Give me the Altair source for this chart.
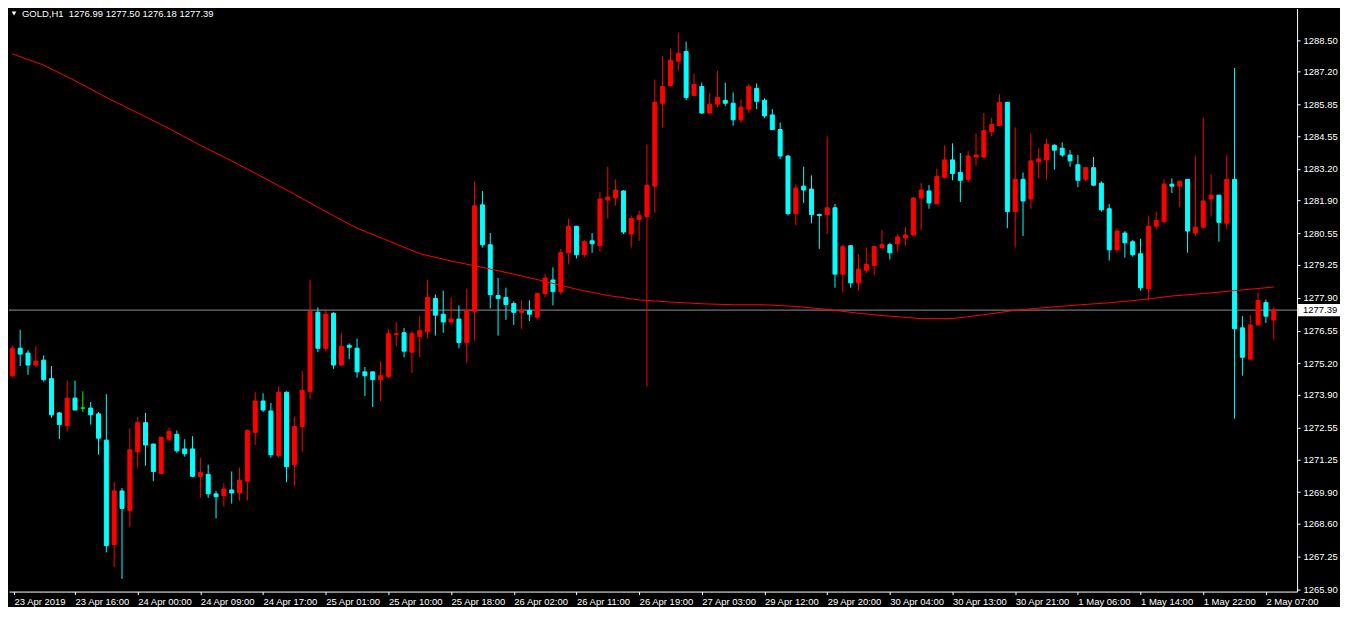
import altair as alt
import pandas as pd

# ---- data ----
bar_index = list(range(-1, 161))

open_ = [1274.69, 1275.82, 1275.62, 1275.13, 1275.33, 1274.57, 1273.16, 1272.64, 1273.77, 1273.36,
         1273.36, 1273.12, 1272.04, 1267.74, 1269.95, 1269.15, 1271.56, 1272.76, 1271.88, 1270.67,
         1272.08, 1272.28, 1271.68, 1271.68, 1270.55, 1270.63, 1269.83, 1269.75, 1269.99, 1269.87,
         1270.35, 1272.36, 1273.65, 1273.24, 1271.40, 1274.01, 1271.03, 1272.60, 1274.05, 1277.30,
         1275.82, 1277.26, 1275.13, 1275.94, 1275.82, 1274.85, 1274.85, 1274.53, 1274.65, 1276.38,
         1276.46, 1275.66, 1276.30, 1276.50, 1277.87, 1277.22, 1276.90, 1277.02, 1276.06, 1277.34,
         1281.72, 1280.08, 1277.99, 1277.91, 1277.66, 1277.30, 1277.38, 1277.10, 1278.07, 1278.63,
         1278.15, 1279.75, 1280.84, 1279.67, 1280.24, 1280.04, 1281.92, 1282.00, 1282.29, 1280.52,
         1281.12, 1281.24, 1282.49, 1285.90, 1286.63, 1287.63, 1288.03, 1286.22, 1286.59, 1285.50,
         1285.86, 1286.02, 1285.90, 1285.22, 1285.66, 1286.51, 1286.02, 1285.42, 1284.82, 1283.73,
         1281.36, 1282.49, 1282.37, 1281.32, 1281.32, 1281.60, 1278.87, 1280.04, 1278.51, 1279.03,
         1279.23, 1279.96, 1280.08, 1280.12, 1280.36, 1280.48, 1282.00, 1282.29, 1281.76, 1282.85,
         1283.57, 1283.05, 1282.77, 1283.69, 1283.69, 1284.74, 1284.98, 1285.94, 1281.44, 1282.77,
         1281.96, 1283.49, 1283.57, 1284.17, 1284.05, 1283.77, 1283.37, 1282.77, 1283.25, 1282.61,
         1281.56, 1279.87, 1280.56, 1280.20, 1279.71, 1278.27, 1280.84, 1281.04, 1282.57, 1282.49,
         1282.77, 1280.56, 1280.80, 1281.96, 1282.12, 1280.96, 1282.77, 1276.66, 1275.37, 1276.78,
         1277.70, 1276.99]

high = [1275.94, 1276.58, 1275.74, 1275.90, 1275.53, 1275.09, 1273.20, 1274.49, 1274.49, 1274.05,
        1273.61, 1273.20, 1273.93, 1270.31, 1270.07, 1272.52, 1273.00, 1273.16, 1271.88, 1272.16,
        1272.56, 1272.44, 1272.08, 1272.20, 1271.32, 1271.03, 1269.95, 1270.27, 1270.75, 1270.91,
        1272.48, 1274.01, 1273.97, 1273.57, 1274.25, 1274.05, 1273.00, 1274.89, 1278.63, 1277.50,
        1277.42, 1277.30, 1276.46, 1276.02, 1276.22, 1275.05, 1274.85, 1275.29, 1276.62, 1276.90,
        1276.66, 1276.54, 1277.14, 1278.63, 1278.03, 1278.19, 1277.91, 1277.58, 1278.27, 1282.69,
        1282.29, 1280.56, 1278.71, 1278.31, 1277.74, 1277.79, 1277.79, 1278.07, 1278.87, 1279.15,
        1279.91, 1281.16, 1280.84, 1280.28, 1280.56, 1282.25, 1283.29, 1282.77, 1282.33, 1281.28,
        1281.48, 1284.21, 1286.87, 1287.83, 1288.15, 1288.80, 1288.43, 1287.11, 1286.75, 1286.31,
        1287.23, 1286.75, 1286.35, 1286.06, 1286.71, 1286.71, 1286.10, 1285.66, 1285.10, 1283.77,
        1282.57, 1283.29, 1282.93, 1281.36, 1284.54, 1281.76, 1280.08, 1280.04, 1279.67, 1279.96,
        1280.04, 1280.68, 1280.16, 1280.52, 1280.80, 1282.04, 1282.61, 1282.53, 1283.21, 1284.17,
        1284.25, 1283.85, 1283.93, 1284.66, 1285.50, 1285.30, 1286.27, 1285.94, 1284.90, 1283.05,
        1284.66, 1284.05, 1284.42, 1284.21, 1284.29, 1283.97, 1283.77, 1283.25, 1283.69, 1282.69,
        1281.76, 1280.76, 1280.64, 1280.28, 1280.32, 1281.24, 1281.44, 1282.77, 1282.81, 1282.69,
        1282.77, 1283.73, 1285.30, 1282.97, 1282.12, 1283.77, 1287.35, 1277.14, 1277.18, 1278.11,
        1277.83, 1277.50]

low = [1274.61, 1275.09, 1274.73, 1275.05, 1274.45, 1272.96, 1272.08, 1272.40, 1273.28, 1273.20,
       1272.68, 1271.44, 1267.42, 1266.81, 1266.33, 1268.46, 1270.91, 1270.99, 1270.35, 1270.67,
       1272.00, 1271.52, 1271.36, 1270.55, 1269.67, 1269.67, 1268.82, 1269.31, 1269.43, 1269.55,
       1269.55, 1271.84, 1273.20, 1271.32, 1271.32, 1270.31, 1270.15, 1271.56, 1273.73, 1275.66,
       1275.70, 1274.97, 1275.09, 1275.37, 1274.61, 1273.85, 1273.40, 1273.65, 1274.61, 1275.90,
       1275.45, 1274.81, 1275.45, 1276.22, 1276.34, 1276.46, 1276.78, 1275.82, 1275.21, 1276.14,
       1279.96, 1277.46, 1276.34, 1276.98, 1276.78, 1276.62, 1276.94, 1277.02, 1277.91, 1277.58,
       1278.03, 1279.27, 1279.51, 1279.55, 1279.75, 1279.79, 1281.16, 1281.68, 1280.52, 1279.96,
       1280.24, 1274.25, 1281.40, 1284.90, 1286.55, 1287.23, 1286.02, 1286.22, 1285.46, 1285.46,
       1285.74, 1285.78, 1284.98, 1285.10, 1285.50, 1285.66, 1285.30, 1284.82, 1283.61, 1281.28,
       1280.88, 1281.80, 1280.96, 1279.91, 1280.52, 1278.31, 1278.11, 1278.31, 1278.19, 1278.91,
       1278.83, 1279.91, 1279.47, 1279.79, 1280.04, 1280.44, 1280.68, 1281.56, 1281.76, 1282.85,
       1282.73, 1281.84, 1282.65, 1283.33, 1283.65, 1284.54, 1284.98, 1280.76, 1279.96, 1280.44,
       1281.56, 1282.81, 1282.77, 1283.17, 1283.69, 1283.29, 1282.45, 1282.69, 1282.49, 1281.44,
       1279.43, 1279.75, 1279.55, 1279.59, 1278.19, 1277.79, 1280.72, 1280.96, 1282.21, 1281.64,
       1279.75, 1280.44, 1280.76, 1281.24, 1280.20, 1280.72, 1272.92, 1274.69, 1275.37, 1276.78,
       1276.86, 1276.18]

close = [1275.82, 1275.58, 1275.13, 1275.29, 1274.53, 1273.08, 1272.68, 1273.77, 1273.28, 1273.36,
         1273.08, 1272.12, 1267.70, 1269.95, 1269.23, 1271.64, 1272.76, 1271.84, 1270.75, 1272.16,
         1272.40, 1271.60, 1271.48, 1270.55, 1270.71, 1269.83, 1269.71, 1270.03, 1269.87, 1270.39,
         1272.44, 1273.65, 1273.28, 1271.44, 1274.01, 1270.95, 1272.60, 1274.09, 1277.34, 1275.82,
         1277.22, 1275.13, 1275.90, 1275.86, 1274.85, 1274.69, 1274.53, 1274.69, 1276.42, 1276.42,
         1275.70, 1276.42, 1276.54, 1277.91, 1277.18, 1276.90, 1277.02, 1276.06, 1277.38, 1281.68,
         1280.08, 1278.03, 1277.87, 1277.62, 1277.30, 1277.38, 1277.22, 1278.07, 1278.71, 1278.15,
         1279.75, 1280.84, 1279.67, 1280.20, 1280.12, 1281.96, 1282.04, 1282.33, 1280.60, 1281.16,
         1281.28, 1282.53, 1285.94, 1286.59, 1287.67, 1287.95, 1286.14, 1286.67, 1285.50, 1285.86,
         1286.14, 1285.90, 1285.22, 1285.74, 1286.59, 1285.98, 1285.38, 1284.82, 1283.73, 1281.36,
         1282.41, 1282.33, 1281.32, 1281.28, 1281.60, 1278.87, 1280.00, 1278.51, 1279.07, 1279.27,
         1280.00, 1280.08, 1279.75, 1280.40, 1280.48, 1282.00, 1282.33, 1281.80, 1282.89, 1283.57,
         1283.01, 1282.73, 1283.73, 1283.77, 1284.78, 1285.02, 1285.94, 1281.44, 1282.77, 1281.88,
         1283.53, 1283.61, 1284.21, 1283.97, 1283.77, 1283.53, 1282.73, 1283.25, 1282.53, 1281.52,
         1279.87, 1280.64, 1280.16, 1279.67, 1278.31, 1280.84, 1281.08, 1282.57, 1282.49, 1282.69,
         1280.64, 1280.80, 1281.88, 1282.12, 1281.00, 1282.77, 1276.62, 1275.45, 1276.78, 1277.79,
         1277.14, 1277.39]

# moving average line (sampled every 4 bars)
ma_index = [-1, 3, 7, 11, 15, 19, 23, 27, 31, 35, 39, 43, 47, 51, 55, 59, 63, 67, 71, 75, 79,
            83, 87, 91, 95, 99, 103, 107, 111, 115, 119, 123, 127, 131, 135, 139, 143, 147,
            151, 155, 159, 160]
ma_values = [1287.93, 1287.47, 1286.83, 1286.14, 1285.50, 1284.86, 1284.17, 1283.53, 1282.85,
             1282.16, 1281.44, 1280.76, 1280.24, 1279.71, 1279.41, 1279.15, 1278.87, 1278.57,
             1278.25, 1277.99, 1277.81, 1277.72, 1277.65, 1277.61, 1277.61, 1277.54, 1277.42,
             1277.26, 1277.14, 1277.04, 1277.04, 1277.20, 1277.38, 1277.50, 1277.60, 1277.69,
             1277.81, 1277.97, 1278.07, 1278.19, 1278.31, 1278.34]

y_ticks = [1288.50, 1287.20, 1285.85, 1284.55, 1283.20, 1281.90, 1280.55, 1279.25, 1277.90,
           1276.55, 1275.20, 1273.90, 1272.55, 1271.25, 1269.90, 1268.60, 1267.25, 1265.90]

x_tick_index = [-0.7875, 7, 15, 23, 31, 39, 47, 55, 63, 71, 79, 87, 95, 103, 111, 119, 127,
                135, 143, 151, 159]
x_tick_labels = ["23 Apr 2019", "23 Apr 16:00", "24 Apr 00:00", "24 Apr 09:00", "24 Apr 17:00",
                 "25 Apr 01:00", "25 Apr 10:00", "25 Apr 18:00", "26 Apr 02:00", "26 Apr 11:00",
                 "26 Apr 19:00", "27 Apr 03:00", "29 Apr 12:00", "29 Apr 20:00", "30 Apr 04:00",
                 "30 Apr 13:00", "30 Apr 21:00", "1 May 06:00", "1 May 14:00", "1 May 22:00",
                 "2 May 07:00"]

symbol = "GOLD,H1"
last_ohlc = [1276.99, 1277.50, 1276.18, 1277.39]

# ---- layout ----
W, H = 1290, 584
FONT = "Liberation Sans"
FS = 9.5

df = pd.DataFrame({"k": bar_index, "open": open_, "high": high, "low": low, "close": close})
df["dir"] = ["up" if c > o else ("down" if c < o else "flat") for o, c in zip(open_, close)]
ma_df = pd.DataFrame({"k": ma_index, "ma": ma_values})
last_df = pd.DataFrame({"p": [last_ohlc[3]]})
head_df = pd.DataFrame({"t": [symbol + "\u00a0 " + " ".join(f"{v:.2f}" for v in last_ohlc)]})

xscale = alt.Scale(domain=[-0.7875, 162.34], nice=False, zero=False)
yscale = alt.Scale(domain=[1265.81, 1289.80], nice=False, zero=False)
cscale = alt.Scale(domain=["up", "down", "flat"], range=["#ff0000", "#00ffff", "#00ff00"])

label_expr = ("[" + ",".join(f"'{s}'" for s in x_tick_labels) + "][indexof(["
              + ",".join(str(v) for v in x_tick_index) + "], datum.value)]")

x_axis = alt.Axis(values=x_tick_index, labelExpr=label_expr, title=None, grid=False,
                  domainColor="#ffffff", domainWidth=1, tickColor="#ffffff", tickSize=3,
                  labelColor="#ffffff", labelFont=FONT, labelFontSize=FS, labelAlign="left",
                  labelBaseline="top", labelPadding=2, labelOverlap=False, labelFlush=False)
y_axis = alt.Axis(values=y_ticks, format=".2f", orient="right", title=None, grid=False,
                  domainColor="#ffffff", domainWidth=1, tickColor="#ffffff", tickSize=3,
                  labelColor="#ffffff", labelFont=FONT, labelFontSize=FS, labelPadding=3,
                  labelOverlap=False, labelFlush=False)

X = alt.X("k:Q", scale=xscale, axis=x_axis)

bid_line = alt.Chart(last_df).mark_rule(color="#8c939a", strokeWidth=1).encode(
    y=alt.Y("p:Q", scale=yscale, axis=y_axis), x=alt.value(0), x2=alt.value(W))

wicks = alt.Chart(df).mark_rule(strokeWidth=1, clip=True).encode(
    x=X, y=alt.Y("low:Q", scale=yscale, axis=y_axis), y2="high:Q",
    color=alt.Color("dir:N", scale=cscale, legend=None))

bodies = alt.Chart(df).mark_bar(size=4, strokeWidth=1, clip=True, opacity=1).encode(
    x=X, y=alt.Y("open:Q", scale=yscale, axis=y_axis), y2="close:Q",
    fill=alt.Fill("dir:N", scale=cscale, legend=None),
    stroke=alt.Stroke("dir:N", scale=cscale, legend=None))

ma_line = alt.Chart(ma_df).mark_line(color="#ff0000", strokeWidth=1, clip=True).encode(
    x=X, y=alt.Y("ma:Q", scale=yscale, axis=y_axis))

tag = alt.Chart(last_df).mark_point(
    shape="M-1,-0.29H1V0.29H-1Z", filled=True, color="#ffffff", opacity=1,
    size=42 * 42, strokeWidth=0).encode(
    x=alt.value(W + 22), y=alt.Y("p:Q", scale=yscale, axis=y_axis))

tag_text = alt.Chart(last_df).mark_text(
    align="left", baseline="middle", color="#000000", font=FONT, fontSize=FS).encode(
    x=alt.value(W + 6), y=alt.Y("p:Q", scale=yscale, axis=y_axis),
    text=alt.Text("p:Q", format=".2f"))

tri = alt.Chart(head_df).mark_point(shape="triangle-down", filled=True, color="#ffffff",
                                    opacity=1, size=22).encode(
    x=alt.value(5), y=alt.value(5))

head = alt.Chart(head_df).mark_text(align="left", baseline="middle", color="#ffffff",
                                    font=FONT, fontSize=FS).encode(
    x=alt.value(13), y=alt.value(5.5), text="t:N")

chart = alt.layer(bid_line, wicks, bodies, ma_line, tag, tag_text, tri, head).properties(
    width=W, height=H, padding=0, background="#000000"
).configure_view(stroke=None)

chart.save("out.html", embed_options={"renderer": "svg", "actions": False})
